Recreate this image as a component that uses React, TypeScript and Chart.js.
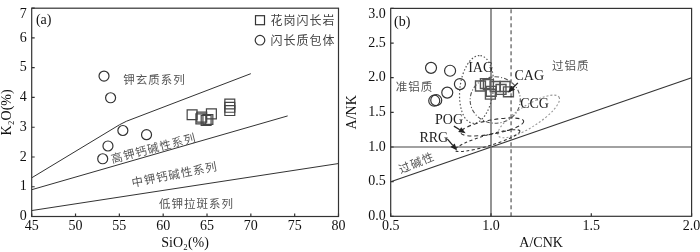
import React, { useEffect, useRef } from 'react';
import { Chart, registerables } from 'chart.js';

Chart.register(...registerables);

const SERIF = '"Liberation Serif", "DejaVu Serif", serif';
const CJK = '"Noto Sans CJK SC", sans-serif';
const NUM_FONT = `14px ${SERIF}`;
const LABEL_FONT = `14px ${SERIF}`;
const CJK_FONT = `11.5px ${CJK}`;

// ---------------- Panel (a): SiO2 vs K2O ----------------
const siO2Ticks = [45, 50, 55, 60, 65, 70, 75, 80];
const k2oTicks = [0, 1, 2, 3, 4, 5, 6, 7];

const shoshoniteBoundarySiO2 = [45, 55.0, 55.8, 70];
const shoshoniteBoundaryK2O = [1.3, 3.08, 3.2, 4.8];
const highKBoundarySiO2 = [45, 74.2];
const highKBoundaryK2O = [0.9, 3.38];
const mediumKBoundarySiO2 = [45, 80];
const mediumKBoundaryK2O = [0.2, 1.78];

const granodioriteSiO2 = [63.3, 64.4, 64.3, 64.9, 65.5, 65.1, 67.6, 67.6, 67.6];
const granodioriteK2O = [3.42, 3.34, 3.28, 3.23, 3.45, 3.26, 3.78, 3.67, 3.56];
const enclaveSiO2 = [53.25, 54.0, 55.4, 58.1, 53.7, 53.1];
const enclaveK2O = [4.72, 3.99, 2.89, 2.75, 2.37, 1.94];

const seriesNames = ['钾玄质系列', '高钾钙碱性系列', '中钾钙碱性系列', '低钾拉斑系列'];
const seriesNameSiO2 = [59.0, 58.9, 61.3, 63.8];
const seriesNameK2O = [4.59, 2.3, 1.42, 0.42];
const seriesNameAngle = [0, -14.5, -11, 0];

const legendNames = ['花岗闪长岩', '闪长质包体'];

// ---------------- Panel (b): A/CNK vs A/NK ----------------
const aCnkTicks = [0.5, 1.0, 1.5, 2.0];
const aNkTicks = [0, 0.5, 1.0, 1.5, 2.0, 2.5, 3.0];

const metaluminousLineX = [1.0, 1.0];
const metaluminousLineY = [0, 3.0];
const peralkalineLineX = [0.5, 2.0];
const peralkalineLineY = [1.0, 1.0];
const dashedLineX = [1.1, 1.1];
const dashedLineY = [0, 3.0];
const diagonalLineX = [0.5, 2.0];
const diagonalLineY = [0.5, 2.0];

const granodioriteACNK = [0.9475, 0.972, 0.987, 1.021, 1.001, 0.997, 1.05, 1.07, 1.087];
const granodioriteANK = [1.88, 1.915, 1.901, 1.873, 1.803, 1.762, 1.831, 1.873, 1.796];
const enclaveACNK = [0.701, 0.796, 0.845, 0.782, 0.717, 0.727];
const enclaveANK = [2.142, 2.1, 1.908, 1.785, 1.668, 1.675];

// field outlines: centre, end of one semi-axis, ratio of the other semi-axis
const fieldCenterX = [0.928, 1.021, 1.188, 1.006, 0.982];
const fieldCenterY = [1.831, 1.678, 1.441, 1.289, 1.092];
const fieldEndX = [0.9475, 1.021, 1.339, 1.163, 1.144];
const fieldEndY = [2.319, 2.013, 1.72, 1.372, 1.231];
const fieldRatio = [0.49, 1.08, 0.3, 0.22, 0.16];

const fieldNames = ['IAG', 'CAG', 'CCG', 'POG', 'RRG'];
const fieldNameX = [0.948, 1.191, 1.217, 0.791, 0.715];
const fieldNameY = [2.138, 2.017, 1.622, 1.385, 1.12];

const arrowFromX = [1.134, 0.815, 0.782];
const arrowFromY = [1.925, 1.301, 1.117];
const arrowToX = [1.085, 0.874, 0.831];
const arrowToY = [1.785, 1.197, 0.949];

const regionNames = ['过铝质', '准铝质', '过碱性'];
const regionNameX = [1.398, 0.619, 0.629];
const regionNameY = [2.18, 1.872, 0.775];
const regionNameAngle = [0, 0, -22];

// styles for the field outlines (kept apart from the data)
const fieldStyles = [
  { color: '#555', dash: [1.5, 2], width: 1.2 },
  { color: '#555', dash: [4, 2, 1, 2], width: 1.1 },
  { color: '#999', dash: [2, 2], width: 1.1 },
  { color: '#333', dash: [4, 3], width: 1.1 },
  { color: '#333', dash: [3, 2.5], width: 1.1 },
];

const pts = (xs: number[], ys: number[]) => xs.map((x, i) => ({ x, y: ys[i] }));

function drawText(
  ctx: CanvasRenderingContext2D,
  text: string,
  x: number,
  y: number,
  font: string,
  color: string,
  angleDeg = 0,
  align: CanvasTextAlign = 'center',
  spacing = '0px'
) {
  ctx.save();
  ctx.translate(x, y);
  if (angleDeg) ctx.rotate((angleDeg * Math.PI) / 180);
  ctx.font = font;
  ctx.fillStyle = color;
  ctx.textAlign = align;
  ctx.textBaseline = 'middle';
  (ctx as any).letterSpacing = spacing;
  ctx.fillText(text, 0, 0);
  ctx.restore();
}

function framePlugin(cfg: {
  xFmt: (v: number) => string;
  yFmt: (v: number) => string;
  xTitle: string;
  yTitle: string;
  yTitleX: number;
}) {
  return {
    id: 'frame',
    afterDatasetsDraw(chart: any) {
      const { ctx, chartArea: a } = chart;
      const xs = chart.scales.x;
      const ys = chart.scales.y;
      ctx.save();
      ctx.strokeStyle = '#333';
      ctx.lineWidth = 1.2;
      ctx.setLineDash([]);
      ctx.strokeRect(a.left, a.top, a.right - a.left, a.bottom - a.top);
      ctx.beginPath();
      for (const t of xs.ticks) {
        const p = xs.getPixelForValue(t.value);
        ctx.moveTo(p, a.bottom);
        ctx.lineTo(p, a.bottom - 3);
      }
      for (const t of ys.ticks) {
        const p = ys.getPixelForValue(t.value);
        ctx.moveTo(a.left, p);
        ctx.lineTo(a.left + 3, p);
      }
      ctx.stroke();
      ctx.restore();
      for (const t of xs.ticks) {
        drawText(ctx, cfg.xFmt(t.value), xs.getPixelForValue(t.value), a.bottom + 10, NUM_FONT, '#111');
      }
      for (const t of ys.ticks) {
        const p = Math.max(ys.getPixelForValue(t.value), a.top + 6);
        drawText(ctx, cfg.yFmt(t.value), a.left - 5, p, NUM_FONT, '#111', 0, 'right');
      }
      drawText(ctx, cfg.xTitle, (a.left + a.right) / 2, a.bottom + 27, LABEL_FONT, '#111');
      drawText(ctx, cfg.yTitle, cfg.yTitleX, (a.top + a.bottom) / 2, LABEL_FONT, '#111', -90);
    },
  };
}

const annotateA = {
  id: 'annotateA',
  afterDatasetsDraw(chart: any) {
    const { ctx, chartArea: a } = chart;
    const xs = chart.scales.x;
    const ys = chart.scales.y;
    seriesNames.forEach((s, i) => {
      drawText(
        ctx,
        s,
        xs.getPixelForValue(seriesNameSiO2[i]),
        ys.getPixelForValue(seriesNameK2O[i]),
        CJK_FONT,
        '#555',
        seriesNameAngle[i],
        'center',
        '1px'
      );
    });
    drawText(ctx, '(a)', a.left + 12, a.top + 12.5, LABEL_FONT, '#111');
    // legend
    ctx.save();
    ctx.strokeStyle = '#333';
    ctx.lineWidth = 1.2;
    ctx.strokeRect(a.right - 83, a.top + 7.5, 9, 9);
    ctx.beginPath();
    ctx.arc(a.right - 78.5, a.top + 32, 4.8, 0, Math.PI * 2);
    ctx.stroke();
    ctx.restore();
    drawText(ctx, legendNames[0], a.right - 68, a.top + 12.5, `12px ${CJK}`, '#444', 0, 'left', '1px');
    drawText(ctx, legendNames[1], a.right - 68, a.top + 32, `12px ${CJK}`, '#444', 0, 'left', '1px');
  },
};

function arrow(ctx: CanvasRenderingContext2D, x0: number, y0: number, x1: number, y1: number) {
  const ang = Math.atan2(y1 - y0, x1 - x0);
  const L = 7;
  const W = 2.8;
  const bx = x1 - L * Math.cos(ang);
  const by = y1 - L * Math.sin(ang);
  ctx.beginPath();
  ctx.moveTo(x0, y0);
  ctx.lineTo(bx, by);
  ctx.stroke();
  ctx.beginPath();
  ctx.moveTo(x1, y1);
  ctx.lineTo(bx + W * Math.sin(ang), by - W * Math.cos(ang));
  ctx.lineTo(bx - W * Math.sin(ang), by + W * Math.cos(ang));
  ctx.closePath();
  ctx.fill();
}

const annotateB = {
  id: 'annotateB',
  afterDatasetsDraw(chart: any) {
    const { ctx, chartArea: a } = chart;
    const xs = chart.scales.x;
    const ys = chart.scales.y;
    ctx.save();
    fieldCenterX.forEach((_, i) => {
      const cx = xs.getPixelForValue(fieldCenterX[i]);
      const cy = ys.getPixelForValue(fieldCenterY[i]);
      const ex = xs.getPixelForValue(fieldEndX[i]);
      const ey = ys.getPixelForValue(fieldEndY[i]);
      const r = Math.hypot(ex - cx, ey - cy);
      const ang = Math.atan2(ey - cy, ex - cx);
      const st = fieldStyles[i];
      ctx.strokeStyle = st.color;
      ctx.lineWidth = st.width;
      ctx.setLineDash(st.dash);
      ctx.beginPath();
      ctx.ellipse(cx, cy, r, r * fieldRatio[i], ang, 0, Math.PI * 2);
      ctx.stroke();
    });
    ctx.setLineDash([]);
    ctx.strokeStyle = '#222';
    ctx.fillStyle = '#222';
    ctx.lineWidth = 1.3;
    arrowFromX.forEach((_, i) => {
      arrow(
        ctx,
        xs.getPixelForValue(arrowFromX[i]),
        ys.getPixelForValue(arrowFromY[i]),
        xs.getPixelForValue(arrowToX[i]),
        ys.getPixelForValue(arrowToY[i])
      );
    });
    ctx.restore();
    fieldNames.forEach((s, i) => {
      drawText(ctx, s, xs.getPixelForValue(fieldNameX[i]), ys.getPixelForValue(fieldNameY[i]), LABEL_FONT, '#222');
    });
    regionNames.forEach((s, i) => {
      drawText(
        ctx,
        s,
        xs.getPixelForValue(regionNameX[i]),
        ys.getPixelForValue(regionNameY[i]),
        CJK_FONT,
        '#555',
        regionNameAngle[i],
        'center',
        '1px'
      );
    });
    drawText(ctx, '(b)', a.left + 11.5, a.top + 14, LABEL_FONT, '#111');
  },
};

const lineDs = (xs: number[], ys: number[], extra: any = {}) => ({
  data: pts(xs, ys),
  showLine: true,
  pointRadius: 0,
  borderColor: '#333',
  borderWidth: 1,
  fill: false,
  tension: 0,
  ...extra,
});

const squareDs = (xs: number[], ys: number[], color: string, w: number) => ({
  data: pts(xs, ys),
  showLine: false,
  pointStyle: 'rect',
  pointRadius: 7,
  pointBorderColor: color,
  pointBorderWidth: w,
  pointBackgroundColor: 'rgba(0,0,0,0)',
});

const circleDs = (xs: number[], ys: number[], r: number) => ({
  data: pts(xs, ys),
  showLine: false,
  pointStyle: 'circle',
  pointRadius: r,
  pointBorderColor: '#333',
  pointBorderWidth: 1.2,
  pointBackgroundColor: 'rgba(0,0,0,0)',
});

function scales(xMin: number, xMax: number, xStep: number, yMin: number, yMax: number, yStep: number, yWidth: number, xHeight: number) {
  return {
    x: {
      type: 'linear',
      min: xMin,
      max: xMax,
      ticks: { stepSize: xStep, display: false },
      grid: { display: false },
      border: { display: false },
      afterFit: (s: any) => {
        s.height = xHeight;
        s.paddingLeft = 0;
        s.paddingRight = 0;
      },
    },
    y: {
      type: 'linear',
      min: yMin,
      max: yMax,
      ticks: { stepSize: yStep, display: false },
      grid: { display: false },
      border: { display: false },
      afterFit: (s: any) => {
        s.width = yWidth;
        s.paddingTop = 0;
        s.paddingBottom = 0;
      },
    },
  };
}

export default function App() {
  const refA = useRef<HTMLCanvasElement>(null);
  const refB = useRef<HTMLCanvasElement>(null);

  useEffect(() => {
    document.body.style.margin = '0';
    Chart.defaults.font.family = SERIF;

    const chartA = new Chart(refA.current as HTMLCanvasElement, {
      type: 'scatter',
      data: {
        datasets: [
          lineDs(shoshoniteBoundarySiO2, shoshoniteBoundaryK2O),
          lineDs(highKBoundarySiO2, highKBoundaryK2O),
          lineDs(mediumKBoundarySiO2, mediumKBoundaryK2O),
          squareDs(granodioriteSiO2, granodioriteK2O, '#444', 1.2),
          circleDs(enclaveSiO2, enclaveK2O, 5),
        ] as any,
      },
      options: {
        animation: false,
        responsive: false,
        events: [],
        layout: { padding: { left: 0, top: 1, right: 11.5, bottom: 0 } },
        plugins: { legend: { display: false }, tooltip: { enabled: false } },
        scales: scales(45, 80, 5, 0, 7, 1, 31.7, 35.5) as any,
      },
      plugins: [
        framePlugin({
          xFmt: (v) => String(v),
          yFmt: (v) => String(v),
          xTitle: 'SiO₂(%)',
          yTitle: 'K₂O(%)',
          yTitleX: 7,
        }),
        annotateA,
      ],
    });

    const chartB = new Chart(refB.current as HTMLCanvasElement, {
      type: 'scatter',
      data: {
        datasets: [
          lineDs(metaluminousLineX, metaluminousLineY, { borderColor: '#666', borderWidth: 1.4 }),
          lineDs(peralkalineLineX, peralkalineLineY, { borderColor: '#444', borderWidth: 1.2 }),
          lineDs(dashedLineX, dashedLineY, { borderColor: '#333', borderWidth: 1, borderDash: [4, 3] }),
          lineDs(diagonalLineX, diagonalLineY, { borderColor: '#333', borderWidth: 1.1 }),
          squareDs(granodioriteACNK, granodioriteANK, '#555', 1.4),
          circleDs(enclaveACNK, enclaveANK, 5.5),
        ] as any,
      },
      options: {
        animation: false,
        responsive: false,
        events: [],
        layout: { padding: { left: 0, top: 1, right: 3.3, bottom: 0 } },
        plugins: { legend: { display: false }, tooltip: { enabled: false } },
        scales: scales(0.5, 2.0, 0.5, 0, 3.0, 0.5, 50.7, 35.7) as any,
      },
      plugins: [
        framePlugin({
          xFmt: (v) => v.toFixed(1),
          yFmt: (v) => v.toFixed(1),
          xTitle: 'A/CNK',
          yTitle: 'A/NK',
          yTitleX: 12,
        }),
        annotateB,
      ],
    });

    return () => {
      chartA.destroy();
      chartB.destroy();
    };
  }, []);

  return (
    <div style={{ position: 'relative', width: 700, height: 252, background: '#fff', overflow: 'hidden' }}>
      <canvas
        ref={refA}
        width={350}
        height={252}
        style={{ position: 'absolute', left: 0, top: 0, width: 350, height: 252 }}
      />
      <canvas
        ref={refB}
        width={360}
        height={252}
        style={{ position: 'absolute', left: 340, top: 0, width: 360, height: 252 }}
      />
    </div>
  );
}
